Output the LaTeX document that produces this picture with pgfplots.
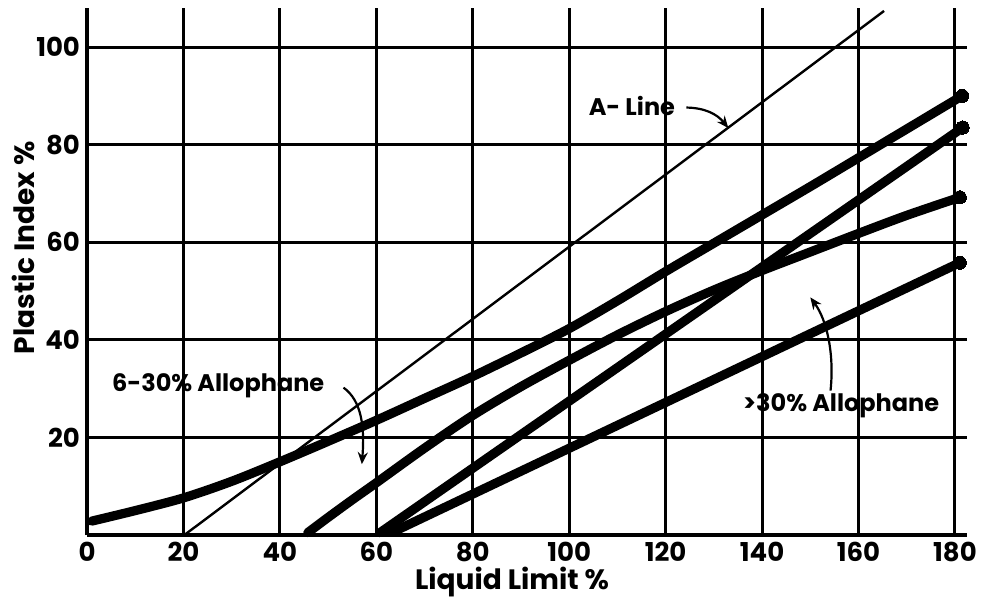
\documentclass[border=0pt]{standalone}
\usepackage{fontspec}
\setmainfont{Poppins}
\usepackage{pgfplots}
\pgfplotsset{compat=1.18}
\usetikzlibrary{arrows.meta}

\begin{document}
\begin{tikzpicture}
\begin{axis}[
  scale only axis, width=440pt, height=263.5pt,
  xmin=0, xmax=182.5, ymin=0, ymax=108,
  axis x line=bottom, axis y line=left,
  axis line style={-, line width=1.6pt, black},
  xtick={0,20,...,180}, ytick={20,40,...,100},
  grid=major, major grid style={black, line width=1.5pt},
  major tick length=0pt,
  tick label style={font=\fontsize{13}{15}\selectfont\bfseries},
  /pgf/number format/assume math mode=true,
  xlabel={Liquid Limit \%}, ylabel={Plastic Index \%},
  label style={font=\fontsize{14}{16}\selectfont\bfseries},
  xlabel style={at={(axis description cs:0.483,-0.104)}, anchor=base},
  ylabel style={at={(axis description cs:-0.0727,0.545)}, anchor=center},
  clip=false,
  endmark/.style={mark=*, mark size=3.3pt, mark options={line width=0pt, draw=none, fill=black}},
]
\coordinate (ll) at (rel axis cs:0,0);
\coordinate (ur) at (rel axis cs:1,1);

% A-line
\addplot[black, line width=1.2pt] coordinates {(20.2,0) (165.3,107.4)};

% curve ending at 90
\addplot[black, line width=4.6pt, line cap=round, line join=round, smooth,
  endmark, mark indices={19}] coordinates {
(1.0,2.85) (10,5) (20,7.6) (30,11) (40,15) (50,19.2) (60,23.5) (70,28) (80,32.5)
(90,37.3) (100,42.3) (110,48) (120,54) (130,59.8) (140,65.6) (150,71.4)
(160,77.3) (170,83.2) (181.5,90)};

% curve ending at 69
\addplot[black, line width=4.6pt, line cap=round, line join=round, smooth,
  endmark, mark indices={16}] coordinates {
(45.8,0.5) (50,3.6) (55,7.2) (60,10.7) (70,17.8) (80,24.5) (90,30.4) (100,35.8)
(110,41) (120,45.8) (130,50.2) (140,54.2) (150,58) (160,61.8) (170,65.5) (181,69.2)};

% line ending at 83
\addplot[black, line width=4.6pt, line cap=round,
  endmark, mark indices={2}] coordinates {(60.8,0.5) (181.6,83.5)};

% line ending at 56
\addplot[black, line width=4.6pt, line cap=round,
  endmark, mark indices={2}] coordinates {(63.2,0.5) (181,55.8)};

% annotations
\node[font=\fontsize{12}{14}\selectfont\bfseries] at (axis cs:113,88) {A- Line};
\draw[black, line width=1.1pt, -{Stealth[length=6pt,width=5pt]}]
  (axis cs:124.3,87.6) to[bend left=25] (axis cs:133,83.4);

\node[font=\fontsize{12}{14}\selectfont\bfseries] at (axis cs:27.2,30.5) {6-30\% Allophane};
\draw[black, line width=1.1pt, -{Stealth[length=6pt,width=5pt]}]
  (axis cs:53.2,30.2) .. controls (axis cs:57,27.5) and (axis cs:57.6,22) .. (axis cs:57,14.5);

\node[font=\fontsize{12}{14}\selectfont\bfseries] at (axis cs:156.4,26.4) {>30\% Allophane};
\draw[black, line width=1.1pt, -{Stealth[length=6pt,width=5pt]}]
  (axis cs:154.2,29.6) .. controls (axis cs:155,37) and (axis cs:153.5,44) .. (axis cs:150,48.7);
\end{axis}
\pgfresetboundingbox
\path ([shift={(-43.5pt,-32.5pt)}]ll) rectangle ([shift={(9.5pt,4pt)}]ur);
\end{tikzpicture}
\end{document}
